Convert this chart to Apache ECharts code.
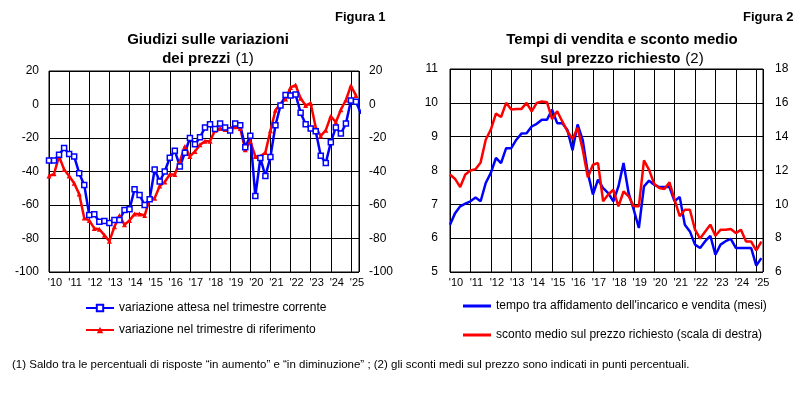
<!DOCTYPE html>
<html><head><meta charset="utf-8">
<script src="https://cdn.jsdelivr.net/npm/echarts@6/dist/echarts.min.js"></script>
<style>body{margin:0;background:#fff}#c{width:809px;height:400px}</style></head>
<body><div id="c"></div>
<script>
const startYear = 2010;
const yearLabels = ["'10","'11","'12","'13","'14","'15","'16","'17","'18","'19","'20","'21","'22","'23","'24","'25"];
const attesa = [-33.5,-33.5,-30,-26,-29.6,-31,-41,-48,-66,-65.5,-70,-69.6,-70.8,-69,-69,-63,-62.5,-50.6,-54,-60,-56.5,-38.8,-46,-40,-31.8,-27.6,-37,-28.8,-20,-23.7,-19.6,-13.7,-11.8,-14.7,-11.4,-13.7,-15.5,-11.4,-12.4,-25.5,-18.6,-54.7,-32,-42.7,-31.4,-12.4,-0.6,5.7,5.3,5.9,-4.9,-11.8,-14.3,-15.9,-30.6,-34.9,-22.5,-13.7,-17.3,-11.4,2.4,1.6,-5.5];
const riferimento = [-42.7,-41.4,-31,-38.8,-42.7,-47,-53.5,-67.8,-69.2,-74,-74.5,-78,-81.6,-73,-66.3,-71.8,-69.2,-65.3,-65.3,-66.3,-56.5,-55.9,-48.6,-46.3,-41.8,-41.8,-33.9,-25,-31,-28,-24,-22,-22,-15.3,-14.3,-14.9,-14.3,-13.3,-14.3,-27,-22,-31,-31,-28.6,-15.7,-3.5,0.4,3.3,10.2,11.6,3.7,-0.6,0.8,-13.7,-18.8,-15.3,-7,-10.6,-3.1,2.7,11.2,5.3];
const tempo = [6.4,6.74,6.94,7.02,7.09,7.2,7.09,7.63,7.93,8.37,8.22,8.66,8.66,8.91,9.09,9.1,9.3,9.38,9.5,9.5,9.8,9.4,9.4,9.2,8.6,9.36,8.9,7.93,7.29,7.73,7.48,7.33,7.09,7.53,8.22,7.33,6.84,6.3,7.53,7.7,7.58,7.51,7.51,7.51,7.09,7.22,6.4,6.2,5.81,5.71,5.91,6.07,5.51,5.81,5.91,5.98,5.71,5.71,5.71,5.71,5.19,5.41];
const sconto = [11.76,11.5,11.02,11.76,12.0,12.08,12.48,13.82,14.42,15.36,15.16,16.0,15.6,15.64,15.64,16.0,15.5,16.0,16.08,16.04,15.04,15.5,14.9,14.32,13.86,14.52,13.24,11.6,12.34,12.44,10.18,10.58,10.86,9.88,10.76,10.48,9.88,9.88,12.6,12.04,11.22,10.96,10.9,11.3,10.28,9.3,9.68,9.68,8.5,7.98,8.4,8.8,8.14,8.5,8.5,8.54,8.3,8.5,7.8,7.8,7.28,7.8];

const toPairs = a => a.map((v,i)=>[startYear+i/4, v]);
const F = 'Liberation Sans, Arial, sans-serif';
const lab = {color:'#000',fontFamily:F,fontSize:12};
const gridLine = {show:true,lineStyle:{color:'#000',width:1}};
function xAxis(gi,max){return {type:'value',gridIndex:gi,min:2010,max:max,interval:1,
  axisLine:{show:false},axisTick:{show:false},splitLine:gridLine,
  axisLabel:Object.assign({},lab,{fontSize:11,margin:5,padding:[0,0,0,12],
   formatter:v=>Number.isInteger(v)?yearLabels[v-2010]:''})};}
const rich = {b:{fontFamily:F,fontSize:15,fontWeight:'bold',color:'#000',lineHeight:19},n:{fontFamily:F,fontSize:15,fontWeight:'normal',color:'#000',lineHeight:19}};
const chart = echarts.init(document.getElementById('c'));
chart.setOption({
 animation:false,
 title:[
  {text:'Figura 1',left:330,top:6,textStyle:{fontFamily:F,fontSize:13,fontWeight:'bold',color:'#000'}},
  {text:'Figura 2',left:738,top:6,textStyle:{fontFamily:F,fontSize:13,fontWeight:'bold',color:'#000'}},
  {text:'{b|Giudizi sulle variazioni}\n{b|dei prezzi} {n|(1)}',left:203,top:25,textAlign:'center',textStyle:{fontWeight:'normal',rich:rich}},
  {text:'{b|Tempi di vendita e sconto medio}\n{b|sul prezzo richiesto} {n|(2)}',left:617,top:25,textAlign:'center',textStyle:{fontWeight:'normal',rich:rich}},
  {text:'(1) Saldo tra le percentuali di risposte “in aumento” e “in diminuzione” ; (2) gli sconti medi sul prezzo sono indicati in punti percentuali.',left:7,top:354,
   textStyle:{fontFamily:F,fontSize:11.5,fontWeight:'normal',color:'#000'}}
 ],
 legend:[
  {left:80,top:297,orient:'vertical',itemGap:10,itemWidth:28,itemHeight:8,data:['variazione attesa nel trimestre corrente','variazione nel trimestre di riferimento'],textStyle:lab},
  {left:458,top:295,orient:'vertical',itemGap:17,itemWidth:28,itemHeight:3,
   data:[{name:'tempo tra affidamento dell\'incarico e vendita (mesi)',icon:'rect'},{name:'sconto medio sul prezzo richiesto (scala di destra)',icon:'rect'}],textStyle:lab}
 ],
 grid:[
  {left:49,top:71,width:310,height:201,show:true,borderColor:'#000',borderWidth:1},
  {left:450,top:69,width:313,height:203,show:true,borderColor:'#000',borderWidth:1}
 ],
 xAxis:[xAxis(0,2025.4),xAxis(1,2025.33)],
 yAxis:[
  {type:'value',gridIndex:0,min:-100,max:20,interval:20,position:'left',axisLine:{show:false},axisTick:{show:false},splitLine:gridLine,axisLabel:Object.assign({},lab,{margin:10})},
  {type:'value',gridIndex:0,min:-100,max:20,interval:20,position:'right',axisLine:{show:false},axisTick:{show:false},splitLine:{show:false},axisLabel:Object.assign({},lab,{margin:10})},
  {type:'value',gridIndex:1,min:5,max:11,interval:1,position:'left',axisLine:{show:false},axisTick:{show:false},splitLine:gridLine,axisLabel:Object.assign({},lab,{margin:12})},
  {type:'value',gridIndex:1,min:6,max:18,interval:2,position:'right',axisLine:{show:false},axisTick:{show:false},splitLine:{show:false},axisLabel:Object.assign({},lab,{margin:12})}
 ],
 series:[
  {name:'variazione nel trimestre di riferimento',type:'line',xAxisIndex:0,yAxisIndex:0,data:toPairs(riferimento),
   symbol:'triangle',symbolSize:5,showAllSymbol:true,color:'#ff0000',lineStyle:{color:'#ff0000',width:2.5},itemStyle:{color:'#ff0000'}},
  {name:'variazione attesa nel trimestre corrente',type:'line',xAxisIndex:0,yAxisIndex:0,data:toPairs(attesa),
   symbol:'rect',symbolSize:5,color:'#0000ff',showAllSymbol:true,lineStyle:{color:'#0000ff',width:2.5},itemStyle:{color:'#fff',borderColor:'#0000ff',borderWidth:1.5}},
  {name:'tempo tra affidamento dell\'incarico e vendita (mesi)',type:'line',xAxisIndex:1,yAxisIndex:2,data:toPairs(tempo),
   symbol:'none',color:'#0000ff',lineStyle:{color:'#0000ff',width:2.5}},
  {name:'sconto medio sul prezzo richiesto (scala di destra)',type:'line',xAxisIndex:1,yAxisIndex:3,data:toPairs(sconto),
   symbol:'none',color:'#ff0000',lineStyle:{color:'#ff0000',width:2.5}}
 ]
});
</script></body></html>
